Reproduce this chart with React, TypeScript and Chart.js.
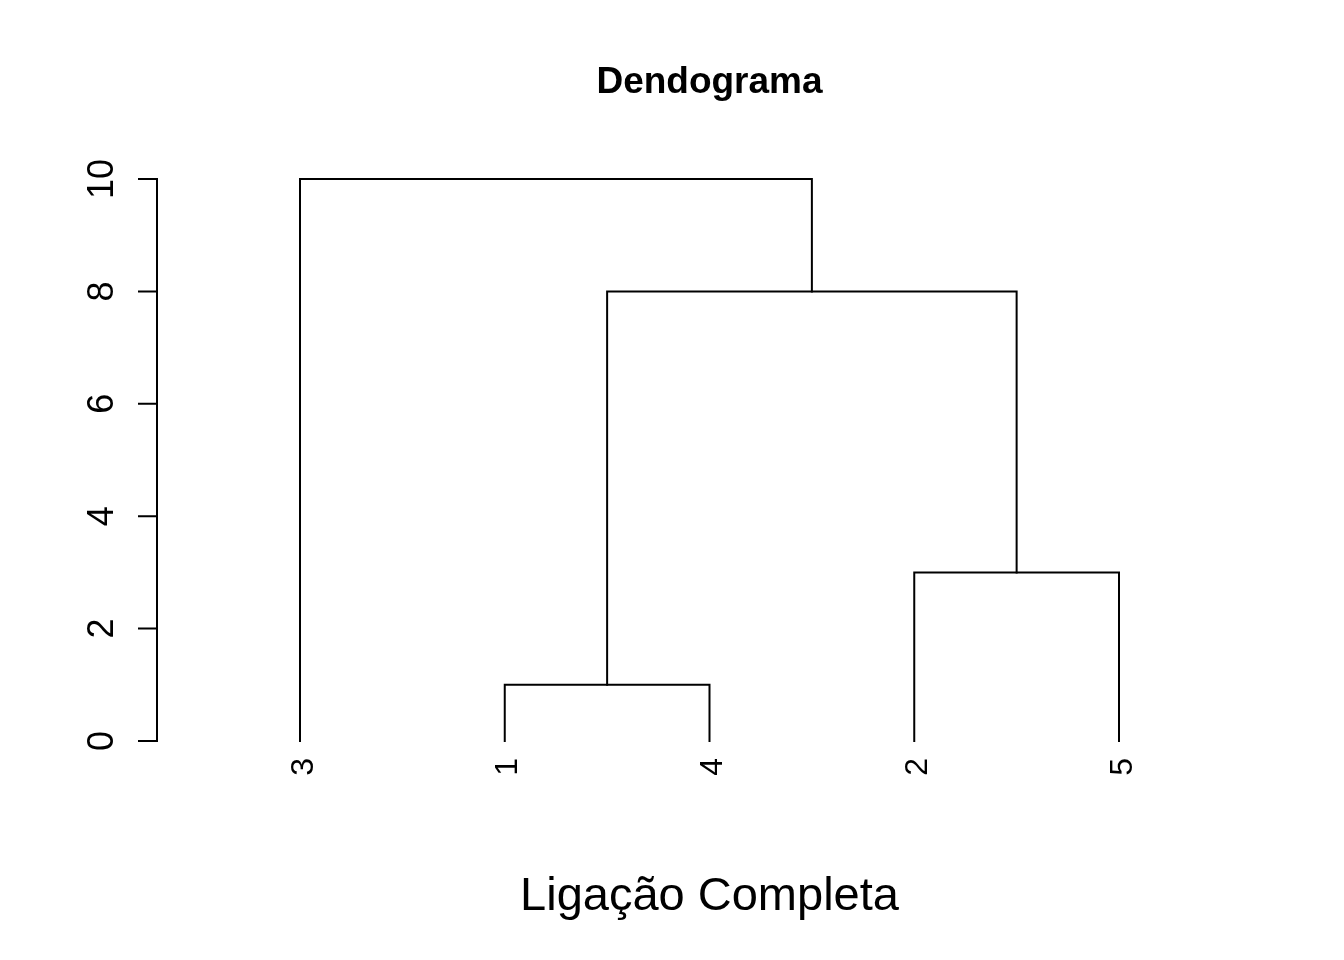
import React, { useEffect, useRef } from "react";
import { Chart, registerables } from "chart.js";

Chart.register(...registerables);

// Leaves in plotting order (left to right)
const leafLabels = ["3", "1", "4", "2", "5"];
const leafIds = [3, 1, 4, 2, 5];
// hclust-style merge table (negative = observation, positive = earlier merge)
const mergeLeft = [-1, -2, 1, -3];
const mergeRight = [-4, -5, 2, 3];
const mergeHeights = [1, 3, 8, 10];
const yTicks = [0, 2, 4, 6, 8, 10];
const titleText = "Dendograma";
const xLabelText = "Ligação Completa";

type Node = { x: number; h: number };

function buildDatasets() {
  const nodes: Node[] = [];
  const getNode = (ref: number): Node =>
    ref < 0 ? { x: leafIds.indexOf(-ref) + 1, h: 0 } : nodes[ref - 1];
  const datasets: any[] = [];
  for (let i = 0; i < mergeHeights.length; i++) {
    const a = getNode(mergeLeft[i]);
    const b = getNode(mergeRight[i]);
    const h = mergeHeights[i];
    nodes.push({ x: (a.x + b.x) / 2, h });
    datasets.push({
      data: [
        { x: a.x, y: a.h },
        { x: a.x, y: h },
        { x: b.x, y: h },
        { x: b.x, y: b.h },
      ],
      showLine: true,
      borderColor: "#000000",
      borderWidth: 2,
      pointRadius: 0,
      tension: 0,
      clip: false,
      borderCapStyle: "square",
      borderJoinStyle: "miter",
    });
  }
  return datasets;
}

const FONT = "'Liberation Sans', Arial, sans-serif";

const decorPlugin = {
  id: "rDecor",
  afterDraw(chart: any) {
    const ctx = chart.ctx as CanvasRenderingContext2D;
    const xs = chart.scales.x;
    const ys = chart.scales.y;
    const area = chart.chartArea;
    ctx.save();
    ctx.fillStyle = "#000";
    ctx.strokeStyle = "#000";
    ctx.lineWidth = 2;

    // Title
    ctx.textAlign = "center";
    ctx.textBaseline = "alphabetic";
    ctx.font = `bold 37px ${FONT}`;
    ctx.fillText(titleText, (area.left + area.right) / 2, 93);

    // X label
    ctx.font = `47px ${FONT}`;
    ctx.fillText(xLabelText, (area.left + area.right) / 2, 910);

    // Y axis line + ticks
    const axX = area.left;
    const y0 = ys.getPixelForValue(yTicks[0]);
    const y1 = ys.getPixelForValue(yTicks[yTicks.length - 1]);
    ctx.beginPath();
    ctx.moveTo(axX, y0 + 1);
    ctx.lineTo(axX, y1 - 1);
    for (const t of yTicks) {
      const py = ys.getPixelForValue(t);
      ctx.moveTo(axX + 1, py);
      ctx.lineTo(axX - 19, py);
    }
    ctx.stroke();

    // Y tick labels (rotated)
    ctx.font = `36px ${FONT}`;
    ctx.textAlign = "center";
    ctx.textBaseline = "alphabetic";
    for (const t of yTicks) {
      const py = ys.getPixelForValue(t);
      ctx.save();
      ctx.translate(113, py);
      ctx.rotate(-Math.PI / 2);
      ctx.fillText(String(t), 0, 0);
      ctx.restore();
    }

    // Leaf labels (rotated, right-aligned towards the leaves)
    ctx.font = `32px ${FONT}`;
    ctx.textAlign = "right";
    const baseY = ys.getPixelForValue(0);
    leafLabels.forEach((lab, i) => {
      const px = xs.getPixelForValue(i + 1);
      ctx.save();
      ctx.translate(px + 12.5, baseY + 17);
      ctx.rotate(-Math.PI / 2);
      ctx.fillText(lab, 0, 0);
      ctx.restore();
    });
    ctx.restore();
  },
};

export default function App() {
  const ref = useRef<HTMLCanvasElement | null>(null);
  useEffect(() => {
    if (!ref.current) return;
    const leftPx = 157;
    const rightPx = 1262;
    const firstLeafPx = 300;
    const lastLeafPx = 1119;
    const n = leafLabels.length;
    const unit = (lastLeafPx - firstLeafPx) / (n - 1);
    const xMin = 1 - (firstLeafPx - leftPx) / unit;
    const xMax = n + (rightPx - lastLeafPx) / unit;
    const chart = new Chart(ref.current, {
      type: "scatter",
      data: { datasets: buildDatasets() },
      options: {
        responsive: false,
        animation: false,
        events: [],
        layout: { padding: { left: leftPx, right: 1344 - rightPx, top: 179, bottom: 960 - 741 } },
        plugins: { legend: { display: false }, title: { display: false }, tooltip: { enabled: false } },
        scales: {
          x: { type: "linear", min: xMin, max: xMax, display: false },
          y: { type: "linear", min: yTicks[0], max: yTicks[yTicks.length - 1], display: false },
        },
      },
      plugins: [decorPlugin],
    });
    return () => chart.destroy();
  }, []);
  return (
    <div style={{ position: "fixed", left: 0, top: 0, width: 1344, height: 960, background: "#fff" }}>
      <canvas ref={ref} width={1344} height={960} style={{ display: "block" }} />
    </div>
  );
}
